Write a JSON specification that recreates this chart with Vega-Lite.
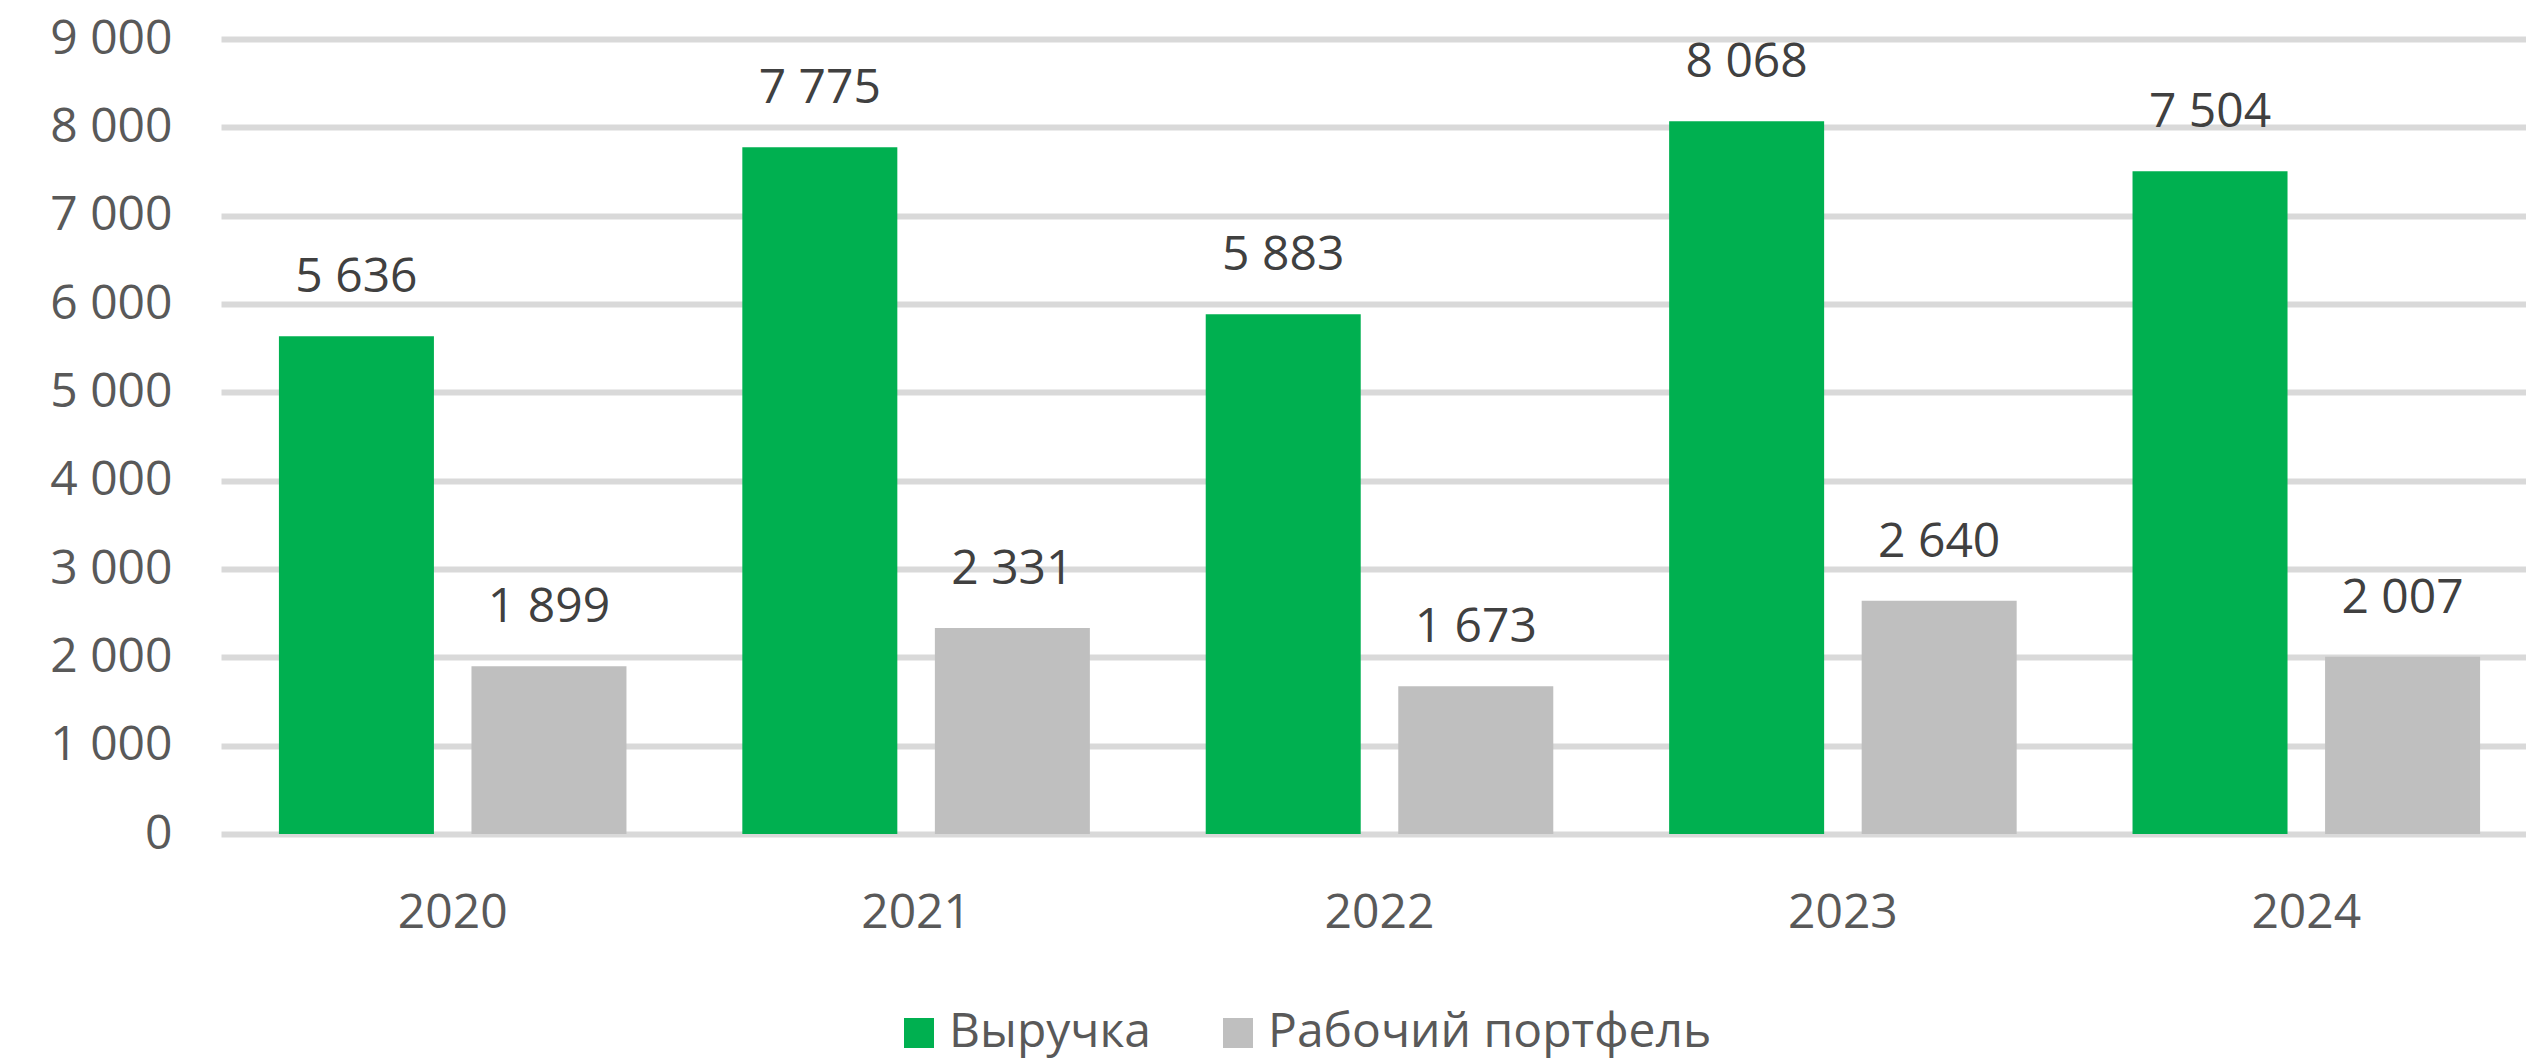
{
  "$schema": "https://vega.github.io/schema/vega-lite/v6.json",
  "width": 2305,
  "height": 795,
  "autosize": {"type": "none"},
  "padding": {"left": 221, "top": 39, "right": 0, "bottom": 229},
  "config": {
    "locale": {"number": {"decimal": ",", "thousands": " ", "grouping": [3], "currency": ["", ""]}},
    "view": {"stroke": null},
    "font": "Open Sans"
  },
  "data": {
    "values": [
      {"year": "2020", "series": "Выручка", "value": 5636},
      {"year": "2020", "series": "Рабочий портфель", "value": 1899},
      {"year": "2021", "series": "Выручка", "value": 7775},
      {"year": "2021", "series": "Рабочий портфель", "value": 2331},
      {"year": "2022", "series": "Выручка", "value": 5883},
      {"year": "2022", "series": "Рабочий портфель", "value": 1673},
      {"year": "2023", "series": "Выручка", "value": 8068},
      {"year": "2023", "series": "Рабочий портфель", "value": 2640},
      {"year": "2024", "series": "Выручка", "value": 7504},
      {"year": "2024", "series": "Рабочий портфель", "value": 2007}
    ]
  },
  "encoding": {
    "x": {
      "field": "year", "type": "nominal",
      "scale": {"range": [0, 2317], "paddingInner": 0.25, "paddingOuter": 0.125},
      "axis": {"title": null, "domain": false, "ticks": false, "tickSize": 0, "labelAngle": 0, "labelFontSize": 48, "labelColor": "#595959", "labelPadding": 55, "grid": false}
    },
    "xOffset": {
      "field": "series", "type": "nominal",
      "scale": {"domain": ["Выручка", "Рабочий портфель"], "paddingInner": 0.195, "paddingOuter": 0}
    },
    "y": {
      "field": "value", "type": "quantitative",
      "scale": {"domain": [0, 9000], "nice": false},
      "axis": {"title": null, "domain": false, "ticks": false, "tickSize": 0, "grid": true, "gridColor": "#D9D9D9", "gridWidth": 6,
        "values": [0, 1000, 2000, 3000, 4000, 5000, 6000, 7000, 8000, 9000], "format": ",d",
        "labelFontSize": 48, "labelColor": "#595959", "labelPadding": 49}
    }
  },
  "layer": [
    {
      "mark": {"type": "bar"},
      "encoding": {
        "color": {
          "field": "series", "type": "nominal",
          "scale": {"domain": ["Выручка", "Рабочий портфель"], "range": ["#00B050", "#BFBFBF"]},
          "legend": {
            "title": null, "orient": "none", "direction": "horizontal",
            "legendX": 674, "legendY": 970,
            "symbolType": "square", "symbolSize": 900, "symbolStrokeWidth": 0, "symbolOpacity": 1,
            "labelFontSize": 48, "labelColor": "#595959", "labelOffset": 6, "columnPadding": 63, "labelLimit": 1000
          }
        }
      }
    },
    {
      "mark": {"type": "text", "baseline": "alphabetic", "dy": -44, "fontSize": 48, "color": "#404040"},
      "encoding": {"text": {"field": "value", "type": "quantitative", "format": ",d"}}
    }
  ]
}
